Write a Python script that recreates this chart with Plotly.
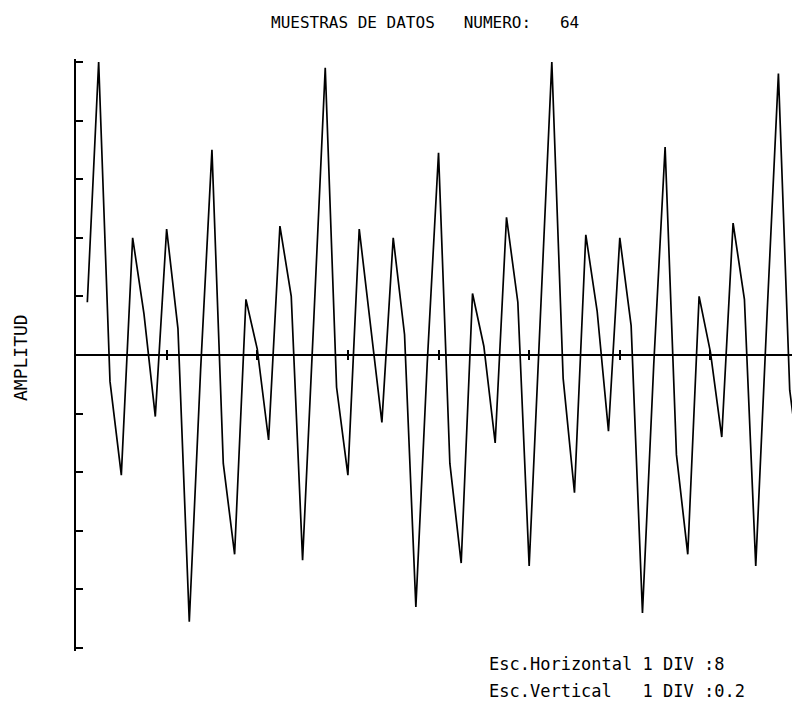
import plotly.graph_objects as go

# Sample number (1..64) and measured amplitude of each sample
sample_index = list(range(1, 65))
amplitude = [
    0.18, 1.00, -0.09, -0.41, 0.40, 0.14, -0.21, 0.43, 0.09, -0.91,
    -0.05, 0.70, -0.37, -0.68, 0.19, 0.02, -0.29, 0.44, 0.20, -0.70,
    0.13, 0.98, -0.11, -0.41, 0.43, 0.10, -0.23, 0.40, 0.07, -0.86,
    -0.03, 0.69, -0.37, -0.71, 0.21, 0.03, -0.30, 0.47, 0.18, -0.72,
    0.15, 1.00, -0.08, -0.47, 0.41, 0.15, -0.26, 0.40, 0.10, -0.88,
    -0.03, 0.71, -0.34, -0.68, 0.20, 0.01, -0.28, 0.45, 0.19, -0.72,
    0.14, 0.96, -0.12, -0.42,
]

# Axis divisions: 8 samples per horizontal division, 0.2 per vertical division
x_div_ticks = [8, 16, 24, 32, 40, 48, 56]
y_div_ticks = [-1.0, -0.8, -0.6, -0.4, -0.2, 0.0, 0.2, 0.4, 0.6, 0.8, 1.0]

title_text = "MUESTRAS DE DATOS   NUMERO:   64"
y_title = "AMPLITUD"
scale_lines = ["Esc.Horizontal 1 DIV :8", "Esc.Vertical   1 DIV :0.2"]

W, H = 796, 714
L, R, T, B = 76, 4, 59, 63
plot_w = W - L - R
plot_h = H - T - B

FONT = "DejaVu Sans Mono"


def px_x(px):
    return (px - L) / plot_w


def px_y(py):
    return (H - B - py) / plot_h


fig = go.Figure()
fig.add_trace(go.Scatter(
    x=sample_index, y=amplitude, mode="lines",
    line=dict(color="#000000", width=1.7),
    hoverinfo="skip", showlegend=False,
))
# empty trace so the overlaid x axis (upward division ticks) is drawn
fig.add_trace(go.Scatter(x=[], y=[], xaxis="x2", yaxis="y",
                         mode="lines", hoverinfo="skip", showlegend=False))

x_range = [0, 63.2]
common_x = dict(
    range=x_range, showgrid=False, zeroline=False, showline=True,
    linecolor="#000000", linewidth=1.5, tickvals=x_div_ticks,
    ticklen=4, tickwidth=1.5, tickcolor="#000000",
    showticklabels=False, anchor="free", position=0.5, fixedrange=True,
)

fig.update_layout(
    width=W, height=H,
    margin=dict(l=L, r=R, t=T, b=B),
    paper_bgcolor="#ffffff", plot_bgcolor="#ffffff",
    xaxis=dict(**common_x, ticks="outside"),
    xaxis2=dict(**common_x, ticks="inside", overlaying="x", side="bottom"),
    yaxis=dict(
        range=[-1.01, 1.01], showgrid=False, zeroline=False, showline=True,
        linecolor="#000000", linewidth=1.5, tickvals=y_div_ticks,
        ticks="inside", ticklen=7, tickwidth=1.5, tickcolor="#000000",
        showticklabels=False, fixedrange=True,
    ),
    showlegend=False,
)

annotations = [
    dict(text=title_text, x=px_x(425), y=px_y(22), xref="paper", yref="paper",
         xanchor="center", yanchor="middle", showarrow=False,
         font=dict(family=FONT, size=16, color="#000000")),
    dict(text=y_title, x=px_x(20), y=px_y(358), xref="paper", yref="paper",
         xanchor="center", yanchor="middle", showarrow=False, textangle=-90,
         font=dict(family=FONT, size=18, color="#000000")),
]
for line, py in zip(scale_lines, [664, 691]):
    annotations.append(dict(
        text=line, x=px_x(487), y=px_y(py), xref="paper", yref="paper",
        xanchor="left", yanchor="middle", showarrow=False,
        font=dict(family=FONT, size=17, color="#000000"),
    ))
fig.update_layout(annotations=annotations)

fig.write_html("out.html")
